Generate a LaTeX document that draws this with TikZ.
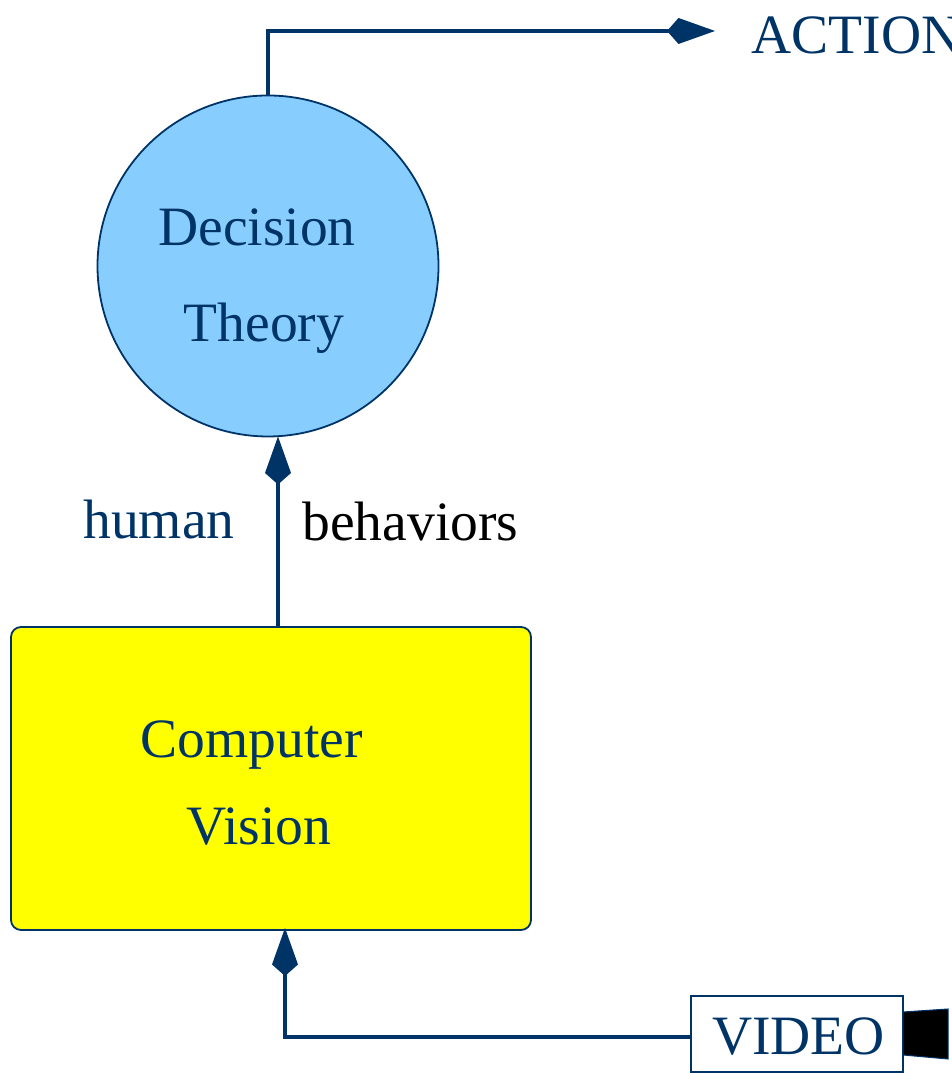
\documentclass[tikz,border=0pt]{standalone}
\usepackage{fontspec}
\setmainfont{Liberation Serif}
\definecolor{FlowNavy}{RGB}{0,51,102}
\definecolor{DecisionBlue}{RGB}{135,206,255}
\definecolor{VisionYellow}{RGB}{255,255,0}
\usetikzlibrary{arrows.meta}
\tikzset{
    flow/.style = {color = FlowNavy, line width = 0.074cm, -{Kite[length = 0.96cm, width = 0.52cm, inset = 0.23cm]}},
    label/.style = {text = FlowNavy, font = \fontsize{31.6pt}{36pt}\selectfont, anchor = base, inner sep = 0pt},
    outline/.style = {draw = FlowNavy, line width = 0.036cm, outer sep = 0pt, inner sep = 0pt}
}

\begin{document}
\begin{tikzpicture}

\useasboundingbox (0, 0) rectangle (19.02, 21.46);

\node[outline, circle, fill = DecisionBlue, minimum size = 6.82cm] (decision) at (5.36, 16.14) {};
\node[outline, rectangle, rounded corners = 0.2cm, fill = VisionYellow, minimum width = 10.4cm, minimum height = 6.06cm] (vision) at (5.42, 5.89) {};
\node[outline, rectangle, minimum width = 4.24cm, minimum height = 1.52cm] (video) at (15.94, 0.78) {};

\node[label] (decisiontext) at (5.14, 16.54) {Decision};
\node[label] (theorytext) at (5.28, 14.62) {Theory};
\node[label] (humantext) at (3.18, 10.68) {human};
\node[label, text = black] (behaviorstext) at (8.21, 10.64) {behaviors};
\node[label] (computertext) at (5.04, 6.30) {Computer};
\node[label] (visiontext) at (5.18, 4.56) {Vision};
\node[label] (videotext) at (15.97, 0.36) {VIDEO};
\node[label, anchor = base west] (actiontext) at (15.03, 20.38) {ACTION};

\coordinate (actiontip) at (14.30, 20.84);
\coordinate (visionout) at (5.56, 8.92);
\coordinate (visionin) at (5.70, 2.90);
\coordinate (videoout) at (13.82, 0.72);

\draw[flow] (decision.north) |- (actiontip);
\draw[flow] (visionout) -- (visionout |- decision.south);
\draw[flow] (videoout) -| (visionin);

% camera
\draw[draw = FlowNavy, line width = 0.02cm, fill = black]
    (18.06, 1.22) -- (18.96, 1.28) -- (18.96, 0.28) -- (18.06, 0.36) -- cycle;

\end{tikzpicture}
\end{document}
